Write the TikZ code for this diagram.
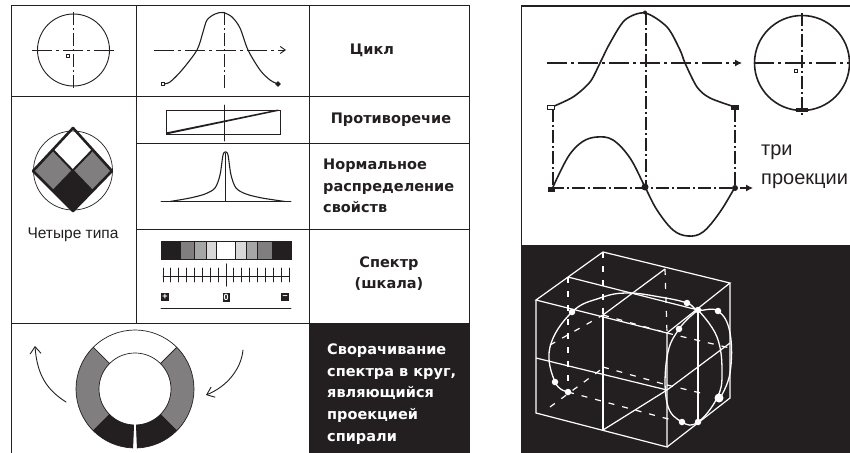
\documentclass[tikz,border=0pt]{standalone}
\usepackage{fontspec}
\setmainfont{Liberation Sans}
\newfontfamily\capfont{DejaVu Sans}
\usepackage{tikz}
\usetikzlibrary{arrows.meta,calc,positioning,shapes.geometric}
\definecolor{inkblack}{RGB}{35,31,32}
\definecolor{halftone}{RGB}{128,126,126}
\tikzset{
  cell/.style={draw=inkblack,line width=1pt,anchor=north west,inner sep=0pt,outer sep=0pt},
  caption/.style={font=\capfont\fontsize{14.5}{21.8}\bfseries\selectfont,text=inkblack,inner sep=0pt},
  axisline/.style={draw=inkblack,line width=.9pt,dash pattern=on 13pt off 3pt on 2pt off 3pt},
  axislong/.style={axisline,dash pattern=on 20pt off 4pt on 3pt off 4pt},
  sketch/.style={draw=inkblack,line width=.9pt,line cap=round,line join=round},
  thinarrow/.style={sketch,-{Straight Barb[length=7pt,width=11pt]}},
  wire/.style={draw=white,line width=1.2pt},
  wiredash/.style={draw=white,line width=1.2pt,dash pattern=on 6pt off 8pt},
  blob/.style={circle,fill=white,inner sep=0pt,minimum size=6.5pt},
  mark box/.style={draw=inkblack,fill=white,inner sep=0pt,minimum size=3.5pt,line width=.8pt},
  mark dot/.style={fill=inkblack,inner sep=0pt,minimum size=5.5pt},
  signbox/.style={fill=inkblack,text=white,font=\fontsize{9}{9}\bfseries\selectfont,inner sep=0pt,minimum size=8.5pt}
}
\newcommand{\ringseg}[3]{\path[draw=inkblack,line width=.7pt,fill=#1] (#2:59pt) arc[start angle=#2,end angle=#3,radius=59pt] -- (#3:36pt) arc[start angle=#3,end angle=#2,radius=36pt] -- cycle;}
\begin{document}
\begin{tikzpicture}[x=1pt,y=-1pt]
  \clip (0,0) rectangle (850,452);
  \fill[white] (0,0) rectangle (850,452);
  % table on the left
  \node[cell,minimum width=124.5pt,minimum height=90.5pt] (circcell) at (11.5,5.5) {};
  \node[cell,minimum width=173.5pt,minimum height=90.5pt] (wavecell) at (circcell.north east) {};
  \node[cell,minimum width=159.5pt,minimum height=90.5pt] (cyccell) at (wavecell.north east) {};
  \node[cell,minimum width=124.5pt,minimum height=227.5pt] (typecell) at (circcell.south west) {};
  \node[cell,minimum width=173.5pt,minimum height=47.5pt] (contrcell) at (wavecell.south west) {};
  \node[cell,minimum width=159.5pt,minimum height=47.5pt] (contrtext) at (contrcell.north east) {};
  \node[cell,minimum width=173.5pt,minimum height=85.5pt] (normcell) at (contrcell.south west) {};
  \node[cell,minimum width=159.5pt,minimum height=85.5pt] (normtext) at (normcell.north east) {};
  \node[cell,minimum width=173.5pt,minimum height=94.5pt] (speccell) at (normcell.south west) {};
  \node[cell,minimum width=159.5pt,minimum height=94.5pt] (spectext) at (speccell.north east) {};
  \node[cell,minimum width=298pt,minimum height=135pt] (ringcell) at (typecell.south west) {};
  \node[cell,fill=inkblack,minimum width=159.5pt,minimum height=135pt] (foldtext) at (ringcell.north east) {};
  % captions
  \node[caption] at (372,50) {Цикл};
  \node[caption] at (391,120) {Противоречие};
  \node[caption,align=left,anchor=west] at (323,186) {Нормальное\\распределение\\свойств};
  \node[caption,align=center] at (389,273.5) {Спектр\\(шкала)};
  \node[caption,align=left,anchor=west,text=white] at (327,394) {Сворачивание\\спектра в круг,\\являющийся\\проекцией\\спирали};
  \node[font=\fontsize{15.5}{18}\selectfont,text=inkblack,inner sep=0pt] (typelabel) at (73,235) {Четыре типа};
  % cycle
  \draw[sketch] (73.5,50) circle[radius=36];
  \draw[axislong] (32,50) -- (114,50);
  \draw[axisline] (73.5,12) -- (73.5,89);
  \node[mark box] (circstart) at (68,56) {};
  \draw[axislong,-{Straight Barb[length=5pt,width=7pt]}] (154,50) -- (286,50);
  \draw[axisline] (224,12) -- (224,89);
  \draw[sketch,line width=1.1pt] plot[smooth,tension=.5] coordinates {(163,84) (170,82) (182,70) (197,50) (203,32) (207,20) (215,14) (223,12.5) (232,17) (240,28) (248,50) (260,70) (270,80) (278,84)};
  \node[mark box] (wavestart) at (163,84) {};
  \node[mark dot,diamond,minimum size=6pt] (waveend) at (278,84) {};
  % four types
  \draw[sketch,line width=.7pt] (73,170.5) circle[radius=39.5];
  \coordinate (dtop) at (73,128); \coordinate (dleft) at (33,171);
  \coordinate (dright) at (112,171); \coordinate (dbot) at (73,211);
  \coordinate (dmid) at (73,171); \coordinate (dul) at (53,150);
  \coordinate (dur) at (92.5,150); \coordinate (dll) at (53,191); \coordinate (dlr) at (92.5,191);
  \fill[halftone] (dleft) -- (dul) -- (dmid) -- (dll) -- cycle;
  \fill[halftone] (dright) -- (dur) -- (dmid) -- (dlr) -- cycle;
  \fill[inkblack] (dmid) -- (dlr) -- (dbot) -- (dll) -- cycle;
  \draw[draw=inkblack,line width=2.6pt,line join=round] (dtop) -- (dright) -- (dbot) -- (dleft) -- cycle;
  \draw[draw=inkblack,line width=2pt] (dul) -- (dlr) (dur) -- (dll);
  % contradiction
  \node[cell,line width=.9pt,minimum width=114pt,minimum height=24pt] (contrbox) at (166,110) {};
  \draw[sketch] (224,105) -- (224,141);
  \fill[inkblack] (166,132.5) -- (278,109.5) -- (278,111) -- (166,134.5) -- cycle;
  % normal distribution
  \draw[sketch] (161,201.5) -- (291,201.5);
  \draw[sketch] (225.5,153) -- (225.5,201.5);
  \draw[sketch,line width=1.1pt] plot[smooth,tension=.5] coordinates {(170,201.5) (190,198) (205,194) (215,188) (220,175) (223,155) (225.5,152) (228,155) (231,175) (236,188) (246,194) (262,198) (285,201.5)};
  % spectrum and scale
  \foreach \xa/\xb/\tone in {161/180/inkblack,180/194/halftone,194/206/black!35,206/216/black!15,216/235/white,235/246/black!15,246/257/black!35,257/272/halftone,272/291/inkblack}
    \path[draw=inkblack,line width=.7pt,fill=\tone] (\xa,241) rectangle (\xb,259);
  \draw[sketch] (163,276) -- (289,276);
  \foreach \tick in {0,...,16}
    \draw[sketch,line width=.8pt] ({163+\tick*7.875},268) -- ({163+\tick*7.875},282);
  \draw[sketch,line width=1.1pt] (226.5,264) -- (226.5,286);
  \node[signbox] (plusbox) at (165,297) {+};
  \node[signbox,minimum size=0pt,minimum width=7pt,minimum height=9pt] (zerobox) at (226,297) {0};
  \node[signbox] (minusbox) at (285,297) {–};
  \draw[sketch] (161,308) -- (291,308);
  % ring
  \begin{scope}[shift={(135,389)}]
    \ringseg{white}{45}{135}
    \ringseg{halftone}{135}{225}
    \ringseg{halftone}{-45}{45}
    \ringseg{inkblack}{225}{267.8}
    \ringseg{inkblack}{-87.8}{-45}
  \end{scope}
  \coordinate (leftfrom) at (66,402); \coordinate (leftto) at (35,346);
  \coordinate (rightfrom) at (243,350); \coordinate (rightto) at (206,395);
  \draw[thinarrow] (leftfrom) .. controls (47,390) and (37,375) .. (leftto);
  \draw[thinarrow] (rightfrom) .. controls (241,370) and (226,387) .. (rightto);
  % three projections
  \node[cell,line width=1.2pt,minimum width=340pt,minimum height=245pt] (projpanel) at (521.5,6) {};
  \draw[axislong,line width=1.1pt,-{Latex[length=7pt,width=7pt]}] (547,63) -- (742,63);
  \draw[axisline,line width=1.1pt] (646,12) -- (646,188);
  \draw[axisline,line width=1.1pt] (553,109) -- (553,188);
  \draw[axisline,line width=1.1pt] (735,109) -- (735,188);
  \draw[axisline,line width=1.1pt,-{Latex[length=7pt,width=7pt]}] (551,188) -- (753,188);
  \draw[sketch,line width=1.6pt] plot[smooth,tension=.5] coordinates {(552,107) (573,97) (590,82) (600,63) (610,43) (625,20) (645,13) (667,27) (680,50) (685,63) (697,87) (710,98) (735,107)};
  \draw[sketch,line width=1.6pt] plot[smooth,tension=.6] coordinates {(553,187) (568,157) (582,142) (597,137) (613,140) (630,158) (645,187) (657,210) (673,230) (688,236) (703,232) (720,212) (735,187)};
  \draw[sketch,line width=1.6pt] (802,63) circle[radius=47.5];
  \draw[axislong,line width=1.1pt] (754,63) -- (850,63);
  \draw[axisline,line width=1.1pt] (802,13) -- (802,115);
  \node[mark box,minimum width=7pt,minimum height=4pt] (projstart) at (551,107) {};
  \node[mark box] (circmark) at (796,71) {};
  \node[mark dot,minimum width=8pt,minimum height=5pt] (endmark) at (735,107) {};
  \node[mark dot,minimum width=7pt,minimum height=5pt] (sinestart) at (551,189) {};
  \node[mark dot,circle,minimum size=7pt] (sinemid) at (645,187) {};
  \node[mark dot,circle,minimum size=6pt] (sineend) at (735,188) {};
  \node[mark dot,circle,minimum size=4pt] (peakmark) at (645,12.5) {};
  \node[mark dot,minimum width=12pt,minimum height=4.5pt] (circbot) at (802,110) {};
  \node[font=\fontsize{20}{29}\selectfont,text=inkblack,align=left,anchor=north west,inner sep=0pt] (projlabel) at (761,145) {три\\проекции};
  % spiral inside the box
  \node[cell,fill=inkblack,draw=none,minimum width=335pt,minimum height=210pt] (cubepanel) at (521,245) {};
  \coordinate (ctl) at (536,300); \coordinate (ctb) at (603,252); \coordinate (ctr) at (730,283); \coordinate (ctf) at (667,333);
  \coordinate (cbl) at (536,413); \coordinate (cbf) at (667,447); \coordinate (cbr) at (730,398);
  \coordinate (ctm) at (603,315); \coordinate (cbm) at (603,430); \coordinate (cmf) at (667,390);
  \coordinate (cml) at (536,358); \coordinate (cmr) at (730,343); \coordinate (ctn) at (698,310);
  \coordinate (cbn) at (698,422); \coordinate (cta) at (568,277); \coordinate (ctc) at (665,269);
  \draw[wire] (ctl) -- (ctb) -- (ctr) -- (ctf) -- cycle;
  \draw[wire] (ctl) -- (cbl) -- (cbf) -- (ctf);
  \draw[wire] (cbf) -- (cbr) -- (ctr);
  \draw[wire] (ctm) -- (cbm) (ctn) -- (cbn);
  \draw[wire] (cta) -- (ctn) (ctc) -- (ctm);
  \draw[wire] (cml) -- (cmf) -- (cmr) (cbm) -- (cmf);
  \draw[wiredash] (cta) -- (568,388);
  \draw[wiredash] (ctb) -- (ctm);
  \draw[wiredash] (ctc) -- (ctf);
  \draw[wiredash] (550,345) -- (603,315);
  \draw[wiredash] (603,315) -- (667,333);
  \draw[wiredash] (667,333) -- (730,348);
  \draw[wiredash] (550,407) -- (603,368);
  \draw[wiredash] (603,367) -- (667,385);
  \draw[wiredash] (667,385) -- (705,394);
  \draw[wiredash] (568,392) -- (672,420);
  \draw[wire,line width=1.3pt] plot[smooth,tension=.7] coordinates {(568,392) (555,382) (550,347) (572,312) (600,298) (627,293) (660,297) (687,303) (698,310) (718,311) (730,333) (730,373) (720,398)};
  \draw[wire,line width=1.3pt] plot[smooth,tension=.7] coordinates {(698,310) (679,329) (667,357) (667,403) (682,422) (698,422) (717,398) (722,373) (717,337) (698,310)};
  \node[blob] (sa) at (568,392) {}; \node[blob] (sb) at (555,382) {};
  \node[blob] (sc) at (572,312) {}; \node[blob] (sd) at (687,303) {};
  \node[blob] (se) at (698,310) {}; \node[blob] (sf) at (718,311) {};
  \node[blob] (sg) at (679,329) {}; \node[blob] (sh) at (682,422) {};
  \node[blob] (si) at (698,422) {}; \node[blob,minimum size=9pt] (sj) at (719,398) {};
\end{tikzpicture}
\end{document}
